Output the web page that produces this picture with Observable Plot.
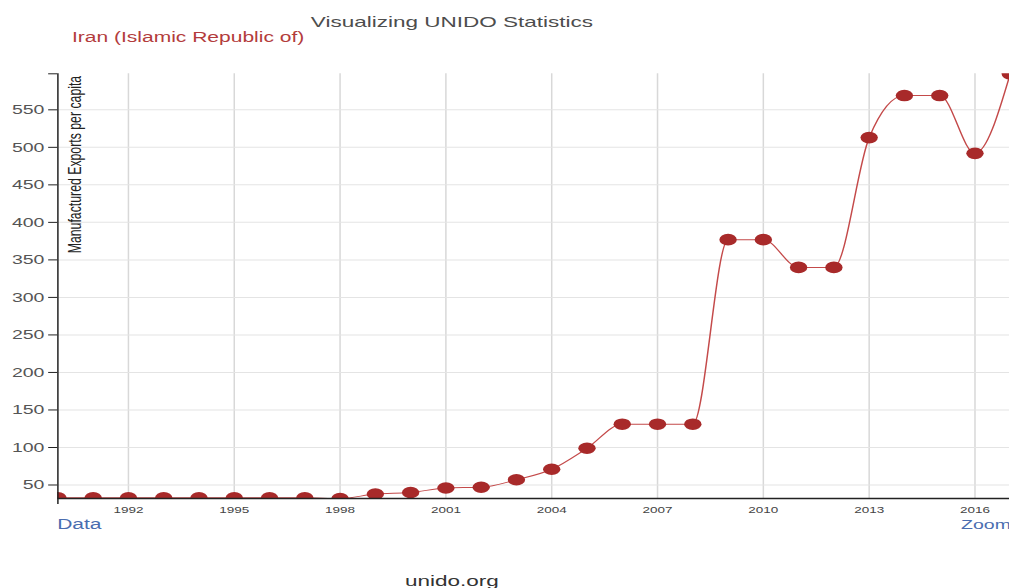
<!DOCTYPE html>
<html>
<head>
<meta charset="utf-8">
<script src="https://cdn.jsdelivr.net/npm/d3@7"></script>
<script src="https://cdn.jsdelivr.net/npm/@observablehq/plot@0.6"></script>
<style>
  html, body { margin: 0; padding: 0; background: #fff; overflow: hidden; }
  #wrap { position: absolute; left: 0; top: 0; width: 673px; height: 588px;
          transform: scaleX(1.5); transform-origin: 0 0;
          font-family: "Liberation Sans", Arial, sans-serif; }
  #wrap svg { position: absolute; left: 0; top: 0; }
  .t { position: absolute; white-space: nowrap; line-height: 1; }
</style>
</head>
<body>
<div id="wrap">
  <div class="t" id="title" style="left:301.3px; top:13.5px; font-size:15px; color:#4d4d4d; transform:translateX(-50%);"></div>
  <div class="t" id="subtitle" style="left:48px; top:30.4px; font-size:14px; color:#b33c3c;"></div>
  <div class="t" id="data" style="left:38.1px; top:517px; font-size:14px; color:#4a6db0;"></div>
  <div class="t" id="zoom" style="left:640.7px; top:518px; font-size:13px; color:#4a6db0;"></div>
  <div class="t" id="source" style="left:301.3px; top:573.3px; font-size:15px; color:#333; transform:translateX(-50%);"></div>
</div>
<script>
// ---- data ----
const years = [1990, 1991, 1992, 1993, 1994, 1995, 1996, 1997, 1998, 1999,
               2000, 2001, 2002, 2003, 2004, 2005, 2006, 2007, 2008, 2009,
               2010, 2011, 2012, 2013, 2014, 2015, 2016, 2017];
const values = [33, 33, 33, 33, 33, 33, 33, 33, 32, 38,
                40, 46, 47, 57, 71, 99, 131, 131, 131, 377,
                377, 340, 340, 513, 569, 569, 492, 598];
const xTicks = [1992, 1995, 1998, 2001, 2004, 2007, 2010, 2013, 2016];
const yTicks = [50, 100, 150, 200, 250, 300, 350, 400, 450, 500, 550];
const titleText = "Visualizing UNIDO Statistics";
const countryText = "Iran (Islamic Republic of)";
const yLabelText = "Manufactured Exports per capita";
const dataText = "Data";
const zoomText = "Zoom";
const sourceText = "unido.org";

document.getElementById("title").textContent = titleText;
document.getElementById("subtitle").textContent = countryText;
document.getElementById("data").textContent = dataText;
document.getElementById("zoom").textContent = zoomText;
document.getElementById("source").textContent = sourceText;

const rows = years.map((year, i) => ({year, value: values[i]}));
const yExtent = d3.extent(values);
const yMax = yExtent[1];
const yMin = yExtent[0];

const chart = Plot.plot({
  width: 673,
  height: 588,
  marginTop: 73.3,
  marginBottom: 90,
  marginLeft: 38.1,
  marginRight: 0,
  style: {fontFamily: '"Liberation Sans", Arial, sans-serif', background: "transparent", overflow: "visible"},
  x: {domain: [years[0], years[years.length - 1]]},
  y: {domain: yExtent},
  marks: [
    Plot.gridX(xTicks, {stroke: "#d8d8d8", strokeOpacity: 1, strokeWidth: 1}),
    Plot.gridY(yTicks, {stroke: "#e4e4e4", strokeOpacity: 1, strokeWidth: 1}),
    Plot.line(rows, {x: "year", y: "value", stroke: "#c44a4a", strokeWidth: 1, curve: "monotone-x", clip: true}),
    Plot.dot(rows, {x: "year", y: "value", r: 5.8, fill: "#a82a2a", clip: true}),
    Plot.ruleX([years[0]], {stroke: "#222", strokeWidth: 1, insetBottom: -6}),
    Plot.ruleY([yMin], {stroke: "#222", strokeWidth: 1.3}),
    Plot.axisY([...yTicks, yMax], {
      tickSize: 6, tickPadding: 3, stroke: "#222", fill: "#555", fontSize: 13,
      tickFormat: d => d === yMax ? "" : String(d), label: null
    }),
    Plot.axisX(xTicks, {
      tickSize: 0, tickPadding: 8, fill: "#444", fontSize: 9,
      tickFormat: d => String(d), label: null
    }),
    Plot.text([yLabelText], {
      text: d => d, frameAnchor: "top-left", rotate: -90, textAnchor: "end",
      dx: 6.4, dy: 2, fontSize: 12.3, fill: "#222"
    })
  ]
});
document.getElementById("wrap").appendChild(chart);
</script>
</body>
</html>
